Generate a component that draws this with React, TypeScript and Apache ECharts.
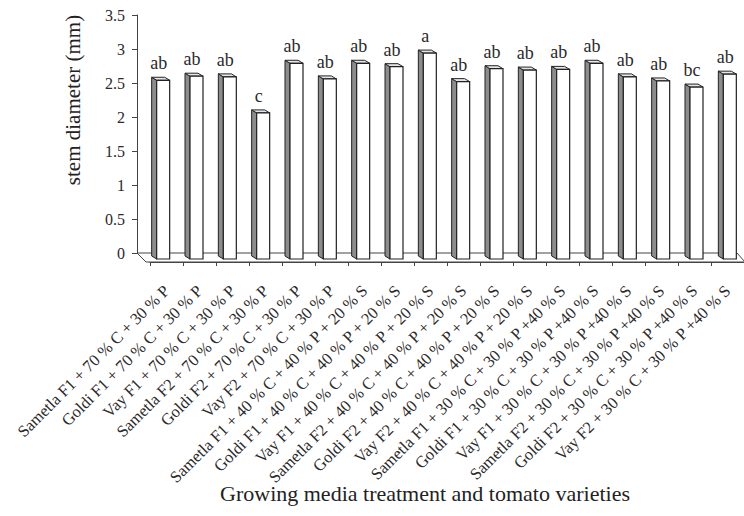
import React, { useEffect, useRef } from "react";
import * as echarts from "echarts";

const categories = [
  "Sametla F1 + 70 % C + 30 % P",
  "Goldi F1 + 70 % C + 30 % P",
  "Vay F1 + 70 % C + 30 % P",
  "Sametla F2 + 70 % C + 30 % P",
  "Goldi F2 + 70 % C + 30 % P",
  "Vay F2 + 70 % C + 30 % P",
  "Sametla F1 + 40 % C + 40 % P + 20 % S",
  "Goldi F1 + 40 % C + 40 % P + 20 % S",
  "Vay F1 + 40 % C + 40 % P + 20 % S",
  "Sametla F2 + 40 % C + 40 % P + 20 % S",
  "Goldi F2 + 40 % C + 40 % P + 20 % S",
  "Vay F2 + 40 % C + 40 % P + 20 % S",
  "Sametla F1 + 30 % C + 30 % P +40 % S",
  "Goldi F1 + 30 % C + 30 % P +40 % S",
  "Vay F1 + 30 % C + 30 % P +40 % S",
  "Sametla F2 + 30 % C + 30 % P +40 % S",
  "Goldi F2 + 30 % C + 30 % P +40 % S",
  "Vay F2 + 30 % C + 30 % P +40 % S",
];

const stemDiameter = [
  2.54, 2.6, 2.59, 2.06, 2.79, 2.56, 2.79, 2.74, 2.94, 2.52, 2.71, 2.69, 2.7,
  2.79, 2.59, 2.53, 2.44, 2.63,
];

const letters = [
  "ab", "ab", "ab", "c", "ab", "ab", "ab", "ab", "a", "ab", "ab", "ab", "ab",
  "ab", "ab", "ab", "bc", "ab",
];

const yTicks = { min: 0, max: 3.5, interval: 0.5 };

const yTitle = "stem diameter (mm)";
const xTitle = "Growing media treatment and tomato varieties";

const SERIF = "'Liberation Serif', 'DejaVu Serif', serif";

export default function App() {
  const ref = useRef<HTMLDivElement>(null);

  useEffect(() => {
    if (!ref.current) return;
    const chart = echarts.init(ref.current, undefined, { renderer: "svg" });

    const renderItem = (params: any, api: any) => {
      const idx = api.value(0);
      const v = api.value(1);
      const p = api.coord([idx, v]);
      const b = api.coord([idx, 0]);
      const band = api.size([1, 0])[0];
      const fw = band * 0.39;
      const sw = band * 0.15;
      const dy = 3;
      const drop = 6;
      const cx = p[0];
      const ty = p[1];
      const by = b[1];
      const L = cx - (fw + sw) / 2;
      const F = L + sw;
      const R = F + fw;
      return {
        type: "group",
        children: [
          {
            type: "polygon",
            shape: {
              points: [
                [F, ty],
                [L, ty - dy],
                [L, by + drop - dy],
                [F, by + drop],
              ],
            },
            style: { fill: "#8c8c8c", stroke: "#222", lineWidth: 1 },
          },
          {
            type: "polygon",
            shape: {
              points: [
                [F, ty],
                [R, ty],
                [R - sw, ty - dy],
                [L, ty - dy],
              ],
            },
            style: { fill: "#e6e6e6", stroke: "#222", lineWidth: 1 },
          },
          {
            type: "rect",
            shape: { x: F, y: ty, width: fw, height: by + drop - ty },
            style: { fill: "#ffffff", stroke: "#222", lineWidth: 1.2 },
          },
          {
            type: "text",
            x: cx - 2,
            y: ty - 8,
            style: {
              text: letters[idx],
              fill: "#2a2a2a",
              font: `18px ${SERIF}`,
              align: "center",
              verticalAlign: "bottom",
            },
          },
        ],
      };
    };

    chart.setOption({
      animation: false,
      backgroundColor: "#ffffff",
      grid: [
        { left: 144, top: 15, width: 600, height: 238 },
        { left: 150, top: 24, width: 600, height: 238 },
      ],
      xAxis: [
        {
          type: "category",
          gridIndex: 0,
          data: categories,
          show: false,
        },
        {
          type: "category",
          gridIndex: 1,
          data: categories,
          axisLine: { show: true, lineStyle: { color: "#444", width: 1 } },
          axisTick: { show: true, length: 4, lineStyle: { color: "#444" } },
          axisLabel: {
            interval: 0,
            rotate: 45,
            margin: 26,
            fontFamily: SERIF,
            fontSize: 16.5,
            color: "#2a2a2a",
          },
          splitLine: { show: false },
        },
      ],
      yAxis: [
        {
          type: "value",
          gridIndex: 0,
          min: yTicks.min,
          max: yTicks.max,
          interval: yTicks.interval,
          offset: 7,
          axisLine: { show: true, lineStyle: { color: "#444", width: 1 } },
          axisTick: { show: true, length: 5, lineStyle: { color: "#444" } },
          axisLabel: {
            fontFamily: SERIF,
            fontSize: 16,
            color: "#2a2a2a",
            margin: 12,
          },
          splitLine: { show: false },
        },
        {
          type: "value",
          gridIndex: 1,
          min: yTicks.min,
          max: yTicks.max,
          show: false,
          splitLine: { show: false },
        },
      ],
      series: [
        {
          type: "custom",
          xAxisIndex: 0,
          yAxisIndex: 0,
          renderItem,
          encode: { x: 0, y: 1 },
          data: stemDiameter.map((v, i) => [i, v]),
        },
      ],
      graphic: [
        {
          type: "polyline",
          shape: {
            points: [
              [745, 262],
              [146, 262],
              [137, 253],
              [737, 253],
              [745, 262],
            ],
          },
          style: { fill: "none", stroke: "#444", lineWidth: 1 },
          z: 1,
        },
        {
          type: "text",
          x: 73,
          y: 100,
          rotation: Math.PI / 2,
          style: {
            text: yTitle,
            font: `21px ${SERIF}`,
            fill: "#222",
            align: "center",
            verticalAlign: "middle",
          },
        },
        {
          type: "text",
          x: 425,
          y: 493,
          style: {
            text: xTitle,
            font: `22px ${SERIF}`,
            fill: "#222",
            align: "center",
            verticalAlign: "middle",
          },
        },
      ],
    });

    return () => chart.dispose();
  }, []);

  return (
    <div
      ref={ref}
      style={{ position: "absolute", left: 0, top: 0, width: 744, height: 516 }}
    />
  );
}
